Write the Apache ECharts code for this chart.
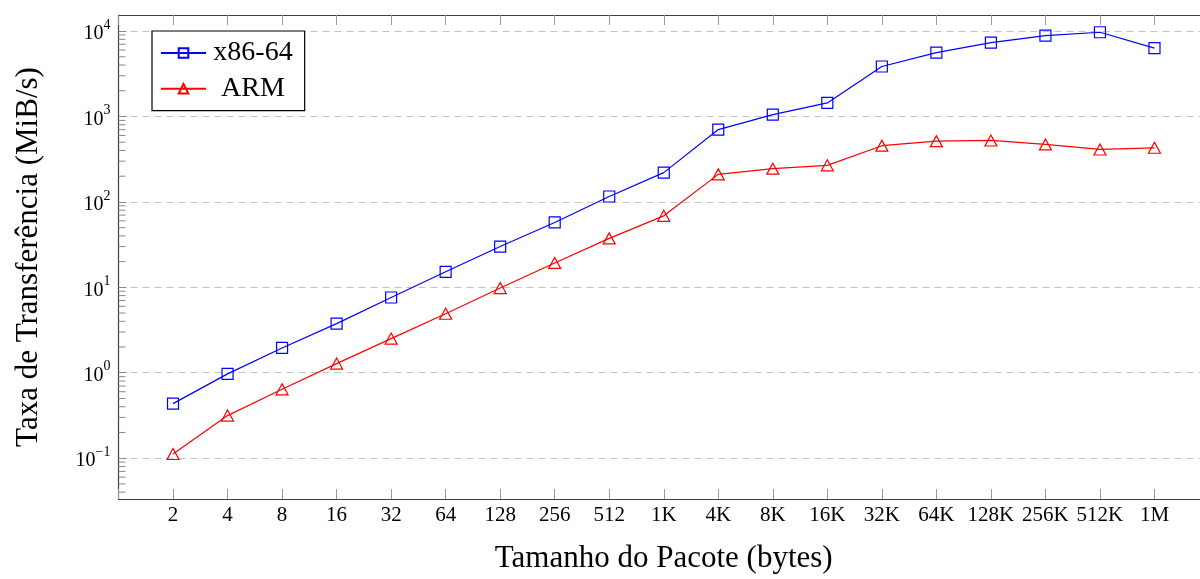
<!DOCTYPE html>
<html>
<head>
<meta charset="utf-8">
<script src="https://cdn.jsdelivr.net/npm/echarts@6/dist/echarts.min.js"></script>
<style>html,body{margin:0;padding:0;background:#fff;overflow:hidden}#c{width:1212px;height:579px}</style>
</head>
<body>
<div id="c"></div>
<script>
const categories = ['2','4','8','16','32','64','128','256','512','1K','4K','8K','16K','32K','64K','128K','256K','512K','1M'];
const x86Values = [0.435, 0.97, 1.95, 3.76, 7.6, 15.2, 30, 57.5, 115.6, 220, 703, 1052, 1442, 3846, 5600, 7330, 8840, 9685, 6305];
const armValues = [0.112, 0.315, 0.64, 1.28, 2.51, 4.91, 9.8, 19.3, 37.4, 68.7, 210, 245, 268, 455, 514, 524, 471, 411, 430];
const seriesNames = ['x86-64', 'ARM'];
const xTitle = 'Tamanho do Pacote (bytes)';
const yTitle = 'Taxa de Transferência (MiB/s)';

const FONT = 'Liberation Serif';
const yMin = Math.pow(10, -1.478);
const yMax = Math.pow(10, 4.188);

// minor tick values 2..9 x 10^k inside the axis range
const minorTicks = [];
for (let k = -2; k <= 4; k++) {
  for (let m = 2; m <= 9; m++) {
    const v = m * Math.pow(10, k);
    if (v > yMin && v < yMax) minorTicks.push([0, v]);
  }
}

const chart = echarts.init(document.getElementById('c'), null, {renderer: 'canvas'});

const xAxisBase = {
  type: 'value', min: 0, max: 20, interval: 1,
  axisLine: {show: true, lineStyle: {color: '#404040', width: 1.2}},
  axisTick: {show: true, inside: true, length: 10, lineStyle: {color: '#999', width: 1}},
  splitLine: {show: false}
};

chart.setOption({
  animation: false,
  backgroundColor: '#fff',
  grid: {left: 118.5, right: 2.7, top: 15, bottom: 78, containLabel: false},
  legend: {
    data: seriesNames,
    orient: 'vertical',
    left: 152, top: 31,
    padding: [8, 12, 8, 8],
    itemGap: 7.7,
    itemWidth: 45, itemHeight: 12,
    backgroundColor: '#fff',
    borderColor: '#000', borderWidth: 1.2,
    formatter: function (n) { return '{t|' + n + '}'; },
    textStyle: {
      fontFamily: FONT, fontSize: 28, color: '#000',
      rich: {t: {fontFamily: FONT, fontSize: 28, color: '#000', width: 84, align: 'center'}}
    }
  },
  xAxis: [
    Object.assign({}, xAxisBase, {
      position: 'bottom',
      name: xTitle, nameLocation: 'middle', nameGap: 44,
      nameTextStyle: {fontFamily: FONT, fontSize: 31, color: '#000'},
      axisLabel: {
        show: true, margin: 6,
        fontFamily: FONT, fontSize: 21, color: '#000',
        formatter: function (v) { return categories[v - 1] || ''; }
      }
    }),
    Object.assign({}, xAxisBase, {
      position: 'top',
      axisLabel: {show: false}
    })
  ],
  yAxis: {
    type: 'log', logBase: 10, min: yMin, max: yMax,
    name: yTitle, nameLocation: 'middle', nameGap: 74,
    nameTextStyle: {fontFamily: FONT, fontSize: 31, color: '#000'},
    axisLine: {show: true, lineStyle: {color: '#404040', width: 1.2}},
    axisTick: {show: true, inside: true, length: 8, lineStyle: {color: '#888', width: 1}},
    splitLine: {show: true, lineStyle: {color: '#c4c4c4', width: 1, type: [7, 5]}},
    axisLabel: {
      show: true, margin: 8, showMinLabel: false, showMaxLabel: false,
      formatter: function (v) {
        const e = Math.round(Math.log10(v));
        const s = e < 0 ? '\u2212' + (-e) : String(e);
        return '{b|10}{s|' + s + '}';
      },
      rich: {
        b: {fontFamily: FONT, fontSize: 20, color: '#000', lineHeight: 26, verticalAlign: 'bottom'},
        s: {fontFamily: FONT, fontSize: 14, color: '#000', lineHeight: 26, verticalAlign: 'top'}
      }
    }
  },
  series: [
    {
      name: seriesNames[0], type: 'line', xAxisIndex: 0,
      data: x86Values.map((v, i) => [i + 1, v]),
      symbol: 'rect', symbolSize: 11,
      lineStyle: {color: '#0000ff', width: 1.2},
      itemStyle: {color: 'rgba(0,0,0,0)', borderColor: '#0000ff', borderWidth: 1.2},
      emphasis: {disabled: true}, z: 5
    },
    {
      name: seriesNames[1], type: 'line', xAxisIndex: 0,
      data: armValues.map((v, i) => [i + 1, v]),
      symbol: 'triangle', symbolSize: [12, 11],
      lineStyle: {color: '#ff0000', width: 1.2},
      itemStyle: {color: 'rgba(0,0,0,0)', borderColor: '#ff0000', borderWidth: 1.2},
      emphasis: {disabled: true}, z: 4
    },
    {
      name: 'minor', type: 'custom', xAxisIndex: 0, silent: true,
      data: minorTicks,
      clip: false,
      renderItem: function (params, api) {
        const p = api.coord([0, api.value(1)]);
        const x0 = params.coordSys.x;
        return {type: 'line', shape: {x1: x0, y1: p[1], x2: x0 + 7, y2: p[1]},
                style: {stroke: '#888', lineWidth: 1}};
      },
      z: 3
    }
  ]
});
</script>
</body>
</html>
